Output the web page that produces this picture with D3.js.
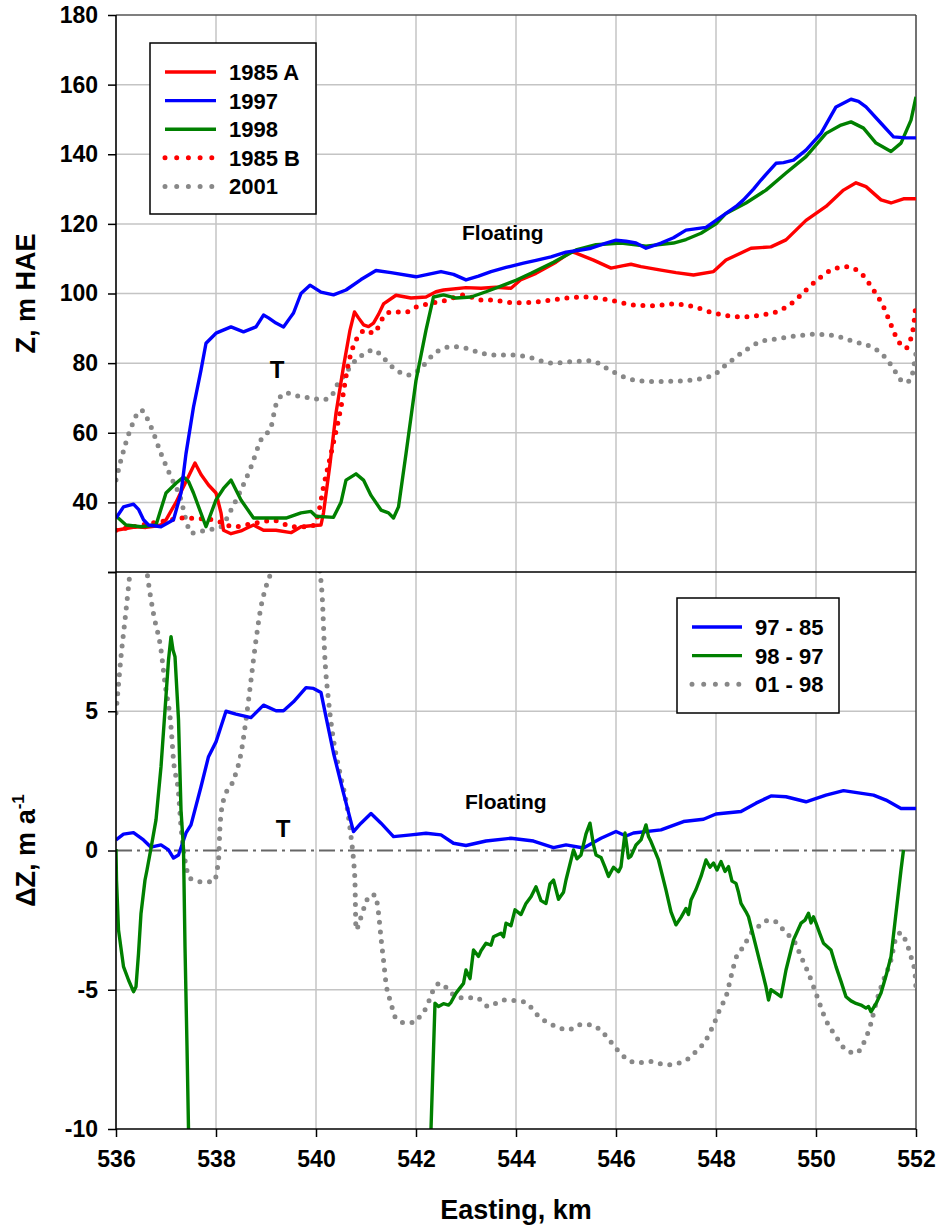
<!DOCTYPE html>
<html>
<head>
<meta charset="utf-8">
<script src="https://cdn.jsdelivr.net/npm/d3@7"></script>
<style>
  body { margin: 0; background: #fff; }
  text { font-family: "Liberation Sans", Arial, sans-serif; font-weight: bold; fill: #000; }
</style>
</head>
<body>
<div id="vis-holder"></div>
<script>
// Elevation profiles, m HAE  [easting km, Z]
const z1985A = [[536.0,32],[536.2,32.5],[536.4,33],[536.6,32.8],[536.8,33.2],[536.9,33.5],[537.0,35],[537.2,40],[537.4,46],[537.58,51.3],[537.7,48],[537.85,45],[538.0,42.7],[538.1,37],[538.15,32],[538.3,31],[538.5,31.8],[538.6,32.5],[538.75,33.5],[538.95,32],[539.2,32],[539.5,31.3],[539.7,33],[539.9,33.3],[540.1,33.5],[540.15,37],[540.28,51],[540.4,65.7],[540.55,79],[540.68,89.5],[540.77,94.7],[540.85,93],[540.95,91],[541.05,90.5],[541.15,91.5],[541.25,94],[541.35,97],[541.6,99.5],[541.9,98.7],[542.2,99],[542.4,100.5],[542.55,101],[543.0,101.7],[543.3,101.5],[543.6,101.8],[543.9,101.5],[544.1,104],[544.4,105.8],[544.8,109],[545.1,112],[545.2,111.6],[545.55,109.6],[545.9,107.3],[546.15,108],[546.3,108.4],[546.5,107.7],[546.7,107.2],[546.9,106.7],[547.2,106],[547.55,105.3],[547.95,106.3],[548.2,109.6],[548.7,113],[549.1,113.4],[549.4,115.4],[549.8,121],[550.2,125],[550.55,129.7],[550.8,131.8],[551.0,130.7],[551.3,126.9],[551.5,126],[551.75,127.2],[552.0,127.2]];
const z1997 = [[536.0,35.5],[536.15,38.7],[536.35,39.5],[536.45,38],[536.55,35],[536.65,33.5],[536.9,33],[537.15,35],[537.3,42.7],[537.4,54],[537.55,67.4],[537.7,78],[537.8,85.7],[538.0,88.6],[538.3,90.4],[538.55,89],[538.8,90.4],[538.95,93.8],[539.05,93],[539.2,91.5],[539.35,90.4],[539.48,93],[539.55,94.4],[539.7,100],[539.88,102.4],[540.1,100.4],[540.35,99.6],[540.6,101],[540.9,104],[541.2,106.6],[541.5,106],[542.0,104.8],[542.5,106.3],[542.75,105.5],[543.0,103.9],[543.25,105],[543.5,106.3],[543.8,107.5],[544.15,108.7],[544.4,109.5],[544.7,110.5],[545.0,111.9],[545.3,112.5],[545.5,113],[545.8,114.5],[546.0,115.3],[546.2,115],[546.4,114.5],[546.6,113],[546.9,114.5],[547.15,116],[547.4,118.2],[547.8,119],[548.0,121],[548.2,123],[548.4,125],[548.55,126.9],[548.75,130],[548.9,132.6],[549.05,135],[549.2,137.4],[549.35,137.6],[549.55,138.3],[549.8,141.2],[550.1,146],[550.4,153.6],[550.7,155.8],[550.85,155.2],[551.0,153.6],[551.3,148.9],[551.55,145],[551.8,144.7],[552.0,144.7]];
const z1998 = [[536.0,36.1],[536.2,33.5],[536.5,33],[536.8,33.5],[537.0,42.7],[537.2,45.5],[537.35,47.3],[537.45,46],[537.55,42.7],[537.8,33],[538.0,40.7],[538.15,44],[538.3,46.4],[538.5,40.7],[538.75,35.5],[539.1,35.5],[539.4,35.5],[539.6,36.5],[539.7,37],[539.9,37.4],[540.0,36],[540.35,35.7],[540.5,40],[540.6,46.4],[540.8,48.2],[540.95,46.4],[541.1,42],[541.3,37.8],[541.45,37],[541.55,35.5],[541.65,38.7],[541.8,54],[542.0,75],[542.2,89.5],[542.35,99],[542.55,99.6],[542.8,98.7],[543.1,99],[543.4,100.5],[543.75,102.4],[544.0,103.8],[544.3,105.8],[544.75,109],[545.2,112.5],[545.6,114],[546.1,114.5],[546.6,113.6],[547.15,114.5],[547.4,115.5],[547.7,117.3],[548.0,120],[548.2,123],[548.6,126],[549.0,129.7],[549.4,134.6],[549.8,139.3],[550.2,146],[550.5,148.4],[550.7,149.3],[550.95,147.5],[551.2,143.2],[551.5,140.8],[551.7,143.2],[551.9,149.8],[552.0,156.5]];
const z1985B = [[536.0,32],[536.35,33],[536.7,34],[537.1,35],[537.3,35.5],[537.7,35.3],[538.0,34.8],[538.35,33],[538.75,34],[539.15,34.8],[539.55,33],[539.9,33],[540.05,37],[540.15,44.4],[540.3,54],[540.5,67.4],[540.65,80],[540.8,86.6],[541.0,89.5],[541.15,88.6],[541.35,93.2],[541.5,94.7],[541.8,94.7],[542.0,96.1],[542.3,97.2],[542.6,98],[542.95,99.6],[543.3,98.1],[543.5,98.1],[544.0,97.3],[544.6,97.9],[545.0,98.7],[545.4,99],[545.95,97.9],[546.35,96.7],[546.75,96.5],[547.15,97],[547.55,96.2],[547.95,94.4],[548.5,93.3],[548.9,93.8],[549.3,95.3],[549.55,97.6],[549.8,101],[550.0,103.6],[550.3,106.7],[550.6,107.7],[550.9,105.8],[551.15,101],[551.35,96.2],[551.5,91],[551.6,87.6],[551.8,84.3],[551.9,87.2],[551.95,90.5],[552.0,97.5]];
const z2001 = [[536.0,46.4],[536.1,52.2],[536.3,61.4],[536.5,66.5],[536.7,61.7],[536.9,54],[537.1,47.3],[537.3,40.7],[537.4,35],[537.5,31.2],[537.8,32],[538.1,33],[538.3,37.8],[538.5,43.6],[538.7,50.2],[538.9,58],[539.1,61.7],[539.2,68],[539.4,71.4],[539.7,70.3],[539.95,70],[540.1,69.4],[540.3,70.3],[540.4,73.2],[540.6,77.2],[540.8,80.9],[541.0,82.9],[541.15,83.8],[541.35,81.5],[541.55,78.6],[541.85,76.6],[542.1,78.6],[542.3,81.8],[542.55,84.3],[542.75,84.7],[543.0,84.3],[543.3,82.9],[543.55,82.3],[543.95,82.3],[544.3,81.5],[544.7,80],[545.1,80.4],[545.5,80.7],[545.8,78.6],[546.15,76.1],[546.35,75.2],[546.75,74.7],[547.15,74.8],[547.55,75.2],[547.95,76.6],[548.2,79.5],[548.55,83.3],[548.9,86.2],[549.2,86.9],[549.6,87.8],[550.0,88.3],[550.4,87.8],[550.75,86.2],[551.1,84.7],[551.3,82.9],[551.5,79.5],[551.65,76.1],[551.75,74.4],[551.9,75.2],[551.95,78.6],[552.0,82.9]];

// Elevation change rates, m/a  [easting km, dZ]
const dz97_85 = [[536.0,0.38],[536.15,0.59],[536.35,0.64],[536.55,0.38],[536.7,0.12],[536.9,0.2],[537.05,0.02],[537.15,-0.27],[537.25,-0.16],[537.4,0.63],[537.5,0.92],[537.7,2.29],[537.85,3.37],[538.0,3.9],[538.1,4.45],[538.2,5.0],[538.4,4.9],[538.7,4.77],[538.95,5.22],[539.2,5.02],[539.35,5.02],[539.55,5.34],[539.8,5.85],[539.95,5.82],[540.1,5.67],[540.2,4.8],[540.35,3.5],[540.55,2.06],[540.75,0.68],[540.9,0.98],[541.1,1.33],[541.3,0.98],[541.55,0.5],[541.9,0.56],[542.2,0.62],[542.5,0.56],[542.75,0.26],[543.0,0.18],[543.4,0.34],[543.9,0.44],[544.35,0.34],[544.75,0.1],[545.0,0.2],[545.35,0.09],[545.7,0.44],[546.0,0.68],[546.2,0.52],[546.35,0.63],[546.9,0.74],[547.35,1.04],[547.75,1.12],[548.0,1.31],[548.5,1.4],[548.8,1.7],[549.1,1.96],[549.4,1.93],[549.8,1.75],[550.2,1.99],[550.55,2.15],[551.15,1.99],[551.4,1.81],[551.7,1.51],[552.0,1.51]];
const dz98_97 = [[536.0,0.05],[536.01,-1.06],[536.05,-2.85],[536.15,-4.17],[536.25,-4.65],[536.35,-5.07],[536.4,-4.89],[536.45,-3.7],[536.5,-2.26],[536.58,-1.06],[536.62,-0.7],[536.7,0.08],[536.8,1.1],[536.9,3.0],[536.98,5.04],[537.05,6.84],[537.1,7.68],[537.14,7.2],[537.18,6.96],[537.25,4.7],[537.3,1.45],[537.35,0.05],[537.38,-3.45],[537.42,-7.04],[537.45,-10],[537.5,-12],[542.25,-12],[542.3,-10],[542.38,-5.48],[542.45,-5.6],[542.55,-5.5],[542.65,-5.55],[542.7,-5.45],[542.8,-5.12],[542.95,-4.77],[543.0,-4.29],[543.08,-4.6],[543.15,-3.57],[543.25,-3.8],[543.3,-3.6],[543.4,-3.33],[543.5,-3.4],[543.55,-3.1],[543.7,-2.97],[543.75,-3.1],[543.8,-2.61],[543.9,-2.7],[543.98,-2.13],[544.1,-2.3],[544.2,-1.9],[544.3,-1.66],[544.4,-1.3],[544.5,-1.8],[544.6,-1.9],[544.68,-1.2],[544.75,-1.06],[544.85,-1.75],[544.95,-1.5],[545.0,-1.06],[545.15,0.02],[545.22,-0.3],[545.3,-0.16],[545.4,0.6],[545.48,0.98],[545.55,0.2],[545.6,-0.16],[545.7,-0.25],[545.78,-0.6],[545.85,-0.93],[545.95,-0.6],[546.05,-0.76],[546.1,-0.58],[546.18,0.63],[546.25,-0.27],[546.3,-0.2],[546.4,0.2],[546.5,0.38],[546.6,0.92],[546.65,0.5],[546.7,0.32],[546.85,-0.34],[547.0,-1.42],[547.1,-2.2],[547.2,-2.67],[547.3,-2.4],[547.4,-2.08],[547.45,-2.3],[547.5,-1.78],[547.6,-1.4],[547.7,-0.93],[547.8,-0.34],[547.88,-0.6],[547.95,-0.45],[548.02,-0.7],[548.1,-0.4],[548.18,-0.75],[548.25,-0.58],[548.32,-1.1],[548.4,-1.18],[548.45,-1.5],[548.5,-1.9],[548.6,-2.2],[548.65,-2.38],[548.8,-3.45],[548.95,-4.53],[549.0,-4.9],[549.05,-5.37],[549.1,-5.0],[549.2,-5.12],[549.3,-5.25],[549.4,-4.29],[549.55,-3.21],[549.7,-2.61],[549.78,-2.5],[549.85,-2.25],[549.9,-2.6],[549.95,-2.38],[550.0,-2.61],[550.08,-3.0],[550.15,-3.33],[550.3,-3.57],[550.4,-4.17],[550.5,-4.7],[550.6,-5.25],[550.7,-5.4],[550.8,-5.49],[550.9,-5.55],[551.0,-5.66],[551.05,-5.6],[551.1,-5.79],[551.2,-5.5],[551.3,-5.12],[551.4,-4.5],[551.5,-3.81],[551.6,-2.25],[551.7,-0.7],[551.75,0.02]];
const dz01_98 = [[536.0,4.94],[536.04,5.76],[536.1,6.96],[536.18,8.28],[536.25,9.47],[536.28,10],[536.35,11.5],[536.45,12],[536.55,11.3],[536.62,10],[536.65,9.6],[536.75,8.5],[536.9,7.2],[536.98,6.0],[537.1,4.45],[537.15,3.25],[537.25,2.06],[537.3,0.86],[537.38,-0.34],[537.48,-1.0],[537.7,-1.12],[537.95,-1.12],[538.05,-0.34],[538.08,0.86],[538.15,1.81],[538.35,2.53],[538.5,3.49],[538.6,4.69],[538.7,6.12],[538.8,7.56],[538.9,8.75],[539.0,9.47],[539.1,10],[539.3,12],[539.6,13],[539.9,12],[540.08,10],[540.12,9.24],[540.18,6.84],[540.25,5.4],[540.35,3.97],[540.48,2.78],[540.62,1.57],[540.7,0.5],[540.75,-0.34],[540.78,-1.18],[540.8,-2.85],[540.88,-2.5],[540.98,-1.96],[541.08,-1.6],[541.18,-1.6],[541.25,-2.24],[541.3,-3.14],[541.35,-3.93],[541.4,-4.76],[541.5,-5.48],[541.58,-5.97],[541.75,-6.18],[541.95,-6.18],[542.1,-5.9],[542.2,-5.66],[542.35,-5.0],[542.48,-4.76],[542.65,-5.0],[542.8,-5.25],[543.0,-5.3],[543.2,-5.27],[543.45,-5.6],[543.75,-5.37],[544.15,-5.43],[544.5,-6.03],[544.8,-6.32],[545.05,-6.44],[545.25,-6.26],[545.5,-6.26],[545.75,-6.56],[546.0,-7.1],[546.2,-7.46],[546.4,-7.62],[546.7,-7.58],[547.0,-7.7],[547.35,-7.58],[547.6,-7.22],[547.8,-6.8],[547.95,-6.26],[548.1,-5.6],[548.2,-5.25],[548.3,-4.53],[548.4,-3.86],[548.55,-3.45],[548.7,-2.97],[548.9,-2.67],[549.05,-2.5],[549.2,-2.56],[549.4,-2.97],[549.55,-3.21],[549.7,-3.81],[549.85,-4.41],[550.0,-5.13],[550.2,-6.09],[550.4,-6.68],[550.6,-7.16],[550.8,-7.28],[550.95,-6.92],[551.1,-6.2],[551.2,-5.48],[551.35,-4.65],[551.5,-3.93],[551.6,-3.14],[551.7,-2.95],[551.8,-3.27],[551.9,-3.81],[551.98,-4.41],[552.0,-5.0]];

const xTicks = [536, 538, 540, 542, 544, 546, 548, 550, 552];
const zTicks = [20, 40, 60, 80, 100, 120, 140, 160, 180];
const dzTicks = [-10, -5, 0, 5, 10];

const topSeries = [
  {name: "1985 A", data: z1985A, color: "#ff0000", dotted: false},
  {name: "1997", data: z1997, color: "#0000ff", dotted: false},
  {name: "1998", data: z1998, color: "#008000", dotted: false},
  {name: "1985 B", data: z1985B, color: "#ff0000", dotted: true},
  {name: "2001", data: z2001, color: "#888888", dotted: true}
];
const bottomSeries = [
  {name: "01 - 98", data: dz01_98, color: "#888888", dotted: true, legend: 2},
  {name: "97 - 85", data: dz97_85, color: "#0000ff", dotted: false, legend: 0},
  {name: "98 - 97", data: dz98_97, color: "#008000", dotted: false, legend: 1}
];

const width = 937, height = 1226;
const left = 116, right = 916;
const top1 = 15, mid = 572, bot2 = 1129;

const svg = d3.select("#vis-holder")
  .append("svg")
  .attr("width", width)
  .attr("height", height);

const x = d3.scaleLinear().domain([536, 552]).range([left, right]);
const yTop = d3.scaleLinear().domain([20, 180]).range([mid, top1]);
const yBot = d3.scaleLinear().domain([-10, 10]).range([bot2, mid]);

// clip areas
const defs = svg.append("defs");
defs.append("clipPath").attr("id", "clipTop")
  .append("rect").attr("x", left).attr("y", top1).attr("width", right - left).attr("height", mid - top1);
defs.append("clipPath").attr("id", "clipBot")
  .append("rect").attr("x", left).attr("y", mid).attr("width", right - left).attr("height", bot2 - mid);

// grid
const grid = svg.append("g").attr("stroke", "#c4c4c4").attr("stroke-width", 1.5);
grid.selectAll(".vx").data(xTicks.slice(1, -1)).enter().append("line")
  .attr("x1", d => x(d)).attr("x2", d => x(d)).attr("y1", top1).attr("y2", bot2);
grid.selectAll(".hz").data(zTicks.slice(1, -1)).enter().append("line")
  .attr("x1", left).attr("x2", right).attr("y1", d => yTop(d)).attr("y2", d => yTop(d));
grid.selectAll(".hd").data([-5, 5]).enter().append("line")
  .attr("x1", left).attr("x2", right).attr("y1", d => yBot(d)).attr("y2", d => yBot(d));

// zero line, dash-dot
svg.append("line")
  .attr("x1", left).attr("x2", right).attr("y1", yBot(0)).attr("y2", yBot(0))
  .attr("stroke", "#666").attr("stroke-width", 1.8).attr("stroke-dasharray", "16,5,3,5");

// frame
svg.append("line").attr("x1", left).attr("x2", right).attr("y1", top1).attr("y2", top1)
  .attr("stroke", "#555").attr("stroke-width", 1.5);
svg.append("line").attr("x1", right).attr("x2", right).attr("y1", top1).attr("y2", bot2)
  .attr("stroke", "#444").attr("stroke-width", 1.5);

const lineGen = d3.line().x(d => x(d[0]));

function drawSeries(s, yScale, clipId) {
  const gen = lineGen.y(d => yScale(d[1])).curve(s.dotted ? d3.curveMonotoneX : d3.curveLinear);
  const p = svg.append("path")
    .datum(s.data)
    .attr("clip-path", `url(#${clipId})`)
    .attr("fill", "none")
    .attr("stroke", s.color)
    .attr("stroke-linejoin", "round")
    .attr("d", gen);
  if (s.dotted) {
    p.attr("stroke-width", 5).attr("stroke-linecap", "round").attr("stroke-dasharray", "0,9.6");
  } else {
    p.attr("stroke-width", 3.4);
  }
}

[topSeries[4], topSeries[3], topSeries[0], topSeries[2], topSeries[1]].forEach(s => drawSeries(s, yTop, "clipTop"));
bottomSeries.forEach(s => drawSeries(s, yBot, "clipBot"));

// axes
svg.append("g")
  .attr("class", "yaxis")
  .attr("transform", `translate(${left},0)`)
  .call(d3.axisLeft(yTop).tickValues(zTicks).tickSize(8).tickPadding(10).tickFormat(d => d === 20 ? "" : d))
  .call(g => g.select(".domain").remove());
svg.append("g")
  .attr("class", "yaxis")
  .attr("transform", `translate(${left},0)`)
  .call(d3.axisLeft(yBot).tickValues(dzTicks).tickSize(8).tickPadding(10).tickFormat(d => d === 10 ? "" : d))
  .call(g => g.select(".domain").remove());
svg.append("g")
  .attr("class", "xaxis")
  .attr("transform", `translate(0,${bot2})`)
  .call(d3.axisBottom(x).tickValues(xTicks).tickSize(8).tickPadding(14).tickFormat(d3.format("d")))
  .call(g => g.select(".domain").remove());

svg.selectAll(".tick line").attr("stroke", "#000").attr("stroke-width", 1.5);
svg.selectAll(".tick text").attr("font-size", "23px").attr("fill", "#000")
  .style("font-family", '"Liberation Sans", Arial, sans-serif').style("font-weight", "bold");

svg.append("line").attr("x1", left).attr("x2", left).attr("y1", top1).attr("y2", bot2)
  .attr("stroke", "#000").attr("stroke-width", 1.6);
svg.append("line").attr("x1", left).attr("x2", right).attr("y1", mid).attr("y2", mid)
  .attr("stroke", "#000").attr("stroke-width", 1.6);
svg.append("line").attr("x1", left).attr("x2", right).attr("y1", bot2).attr("y2", bot2)
  .attr("stroke", "#000").attr("stroke-width", 1.6);

// axis titles
svg.append("text")
  .attr("x", (left + right) / 2).attr("y", 1219)
  .attr("text-anchor", "middle").attr("font-size", "27px")
  .text("Easting, km");
svg.append("text")
  .attr("transform", `translate(35,${(top1 + mid) / 2}) rotate(-90)`)
  .attr("text-anchor", "middle").attr("font-size", "27px")
  .text("Z, m HAE");
const dzTitle = svg.append("text")
  .attr("transform", `translate(35,${(mid + bot2) / 2}) rotate(-90)`)
  .attr("text-anchor", "middle").attr("font-size", "27px");
dzTitle.append("tspan").text("\u0394Z, m a");
dzTitle.append("tspan").attr("font-size", "17px").attr("dy", "-11").text("-1");

// annotations
svg.append("text").attr("x", x(542.92)).attr("y", yTop(115.4)).attr("font-size", "21px").text("Floating");
svg.append("text").attr("x", x(539.22)).attr("y", yTop(75.8)).attr("text-anchor", "middle").attr("font-size", "24px").text("T");
svg.append("text").attr("x", x(542.98)).attr("y", yBot(1.49)).attr("font-size", "21px").text("Floating");
svg.append("text").attr("x", x(539.34)).attr("y", yBot(0.48)).attr("text-anchor", "middle").attr("font-size", "24px").text("T");

// legends
function drawLegend(items, bx, by, bw, bh, rowY0, rowStep, sx0, sx1, tx) {
  const g = svg.append("g");
  g.append("rect").attr("x", bx).attr("y", by).attr("width", bw).attr("height", bh)
    .attr("fill", "#fff").attr("stroke", "#000").attr("stroke-width", 1.5);
  items.forEach((s, i) => {
    const yy = rowY0 + i * rowStep;
    const l = g.append("line").attr("x1", sx0).attr("x2", sx1).attr("y1", yy).attr("y2", yy)
      .attr("stroke", s.color);
    if (s.dotted) {
      l.attr("stroke-width", 5).attr("stroke-linecap", "round").attr("stroke-dasharray", "0,11.7");
    } else {
      l.attr("stroke-width", 3.4);
    }
    g.append("text").attr("x", tx).attr("y", yy).attr("dy", "0.36em")
      .attr("font-size", "22px").text(s.name);
  });
}
drawLegend(topSeries, 150, 43, 166, 171, 72, 28.6, 165, 216, 229);
const bottomLegend = bottomSeries.slice().sort((a, b) => a.legend - b.legend);
drawLegend(bottomLegend, 677, 598, 162, 115, 627, 28.6, 692, 742, 755);
</script>
</body>
</html>
